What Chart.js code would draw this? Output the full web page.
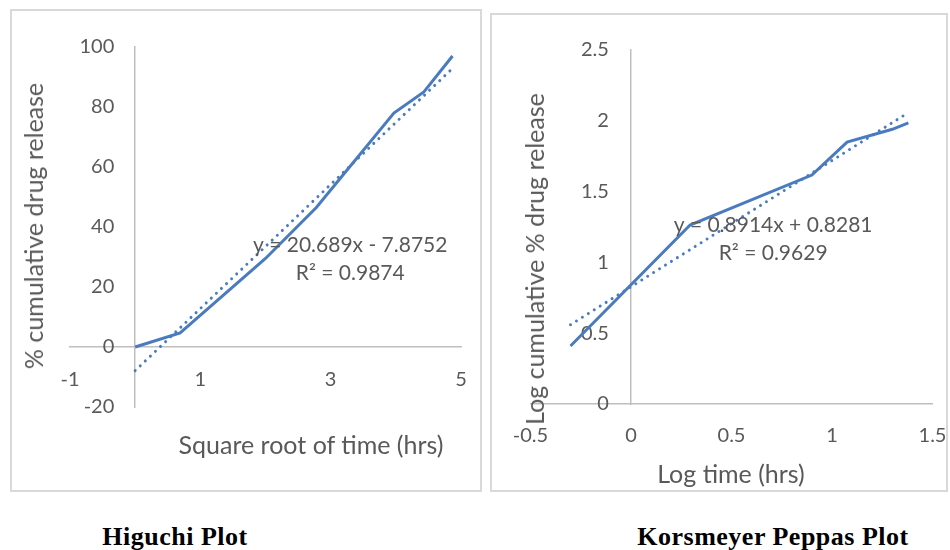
<!DOCTYPE html>
<html>
<head>
<meta charset="utf-8">
<script src="https://cdn.jsdelivr.net/npm/chart.js@4.4.1/dist/chart.umd.min.js"></script>
<style>
  body { margin: 0; background: #fff; width: 950px; height: 550px; position: relative; overflow: hidden; font-family: Lato, sans-serif; }
  .box { position: absolute; border: 2px solid #d9d9d9; box-sizing: border-box; }
  canvas { position: absolute; }
  .ytitle, .xtitle { position: absolute; color: #595959; font-size: 25px; white-space: nowrap; line-height: 1.2; }
  .ytitle { transform: translate(-50%, -50%) rotate(-90deg); }
  .xtitle { transform: translate(-50%, -50%); }
  .caption { position: absolute; font-family: "Liberation Serif", "Times New Roman", serif; font-weight: bold; font-size: 26px; letter-spacing: 0.5px; line-height: 1; color: #000; white-space: nowrap; transform: translate(-50%, -50%); }
</style>
</head>
<body>
<div class="box" style="left:10px;top:9px;width:472px;height:483px;"></div>
<div class="box" style="left:490px;top:13px;width:458px;height:479px;"></div>

<canvas id="higuchi" width="468" height="479" style="left:12px;top:11px;"></canvas>
<canvas id="peppas" width="454" height="475" style="left:492px;top:15px;"></canvas>

<div class="ytitle" style="left:33px;top:226px;">% cumulative drug release</div>
<div class="xtitle" style="left:311px;top:444px;">Square root of time (hrs)</div>
<div class="ytitle" style="left:534px;top:259px;">Log cumulative % drug release</div>
<div class="xtitle" style="left:731px;top:473px;">Log time (hrs)</div>

<div class="caption" style="left:175px;top:537px;">Higuchi Plot</div>
<div class="caption" style="left:773px;top:537px;">Korsmeyer Peppas Plot</div>

<script>
// Higuchi model: cumulative release vs square root of time
const higuchiX = [0, 0.69, 2.0, 2.78, 3.97, 4.43, 4.87];
const higuchiY = [0, 4.7, 29.5, 46.5, 78, 85, 97];
const higuchiSlope = 20.689;
const higuchiIntercept = -7.8752;
const higuchiR2 = '0.9874';
const higuchiXTicks = [-1, 1, 3, 5];
const higuchiYTicks = [-20, 0, 20, 40, 60, 80, 100];

// Korsmeyer-Peppas model: log cumulative release vs log time
const peppasX = [-0.301, 0.294, 0.9, 1.075, 1.30, 1.38];
const peppasY = [0.41, 1.264, 1.617, 1.85, 1.94, 1.985];
const peppasSlope = 0.8914;
const peppasIntercept = 0.8281;
const peppasR2 = '0.9629';
const peppasXTicks = [-0.5, 0, 0.5, 1, 1.5];
const peppasYTicks = [0, 0.5, 1, 1.5, 2, 2.5];

const BLUE = '#4a7bbf';
const TEXT = '#595959';
const AXIS = '#bfbfbf';
const FONT = { family: 'Lato', size: 20 };

function equationText(slope, intercept) {
  const sign = intercept < 0 ? '-' : '+';
  return 'y = ' + slope + 'x ' + sign + ' ' + Math.abs(intercept);
}

// Writes the regression equation and R² next to the trendline
const trendLabel = {
  id: 'trendLabel',
  afterDatasetsDraw(chart, args, opts) {
    const { ctx, scales } = chart;
    const px = scales.x.getPixelForValue(opts.at[0]);
    const py = scales.y.getPixelForValue(opts.at[1]);
    ctx.save();
    ctx.font = '21px Lato';
    ctx.fillStyle = TEXT;
    ctx.textAlign = 'center';
    ctx.textBaseline = 'middle';
    opts.lines.forEach((t, i) => ctx.fillText(t, px, py + i * 28));
    ctx.restore();
  }
};

function buildChart(id, cfg) {
  const points = cfg.xs.map((x, i) => ({ x: x, y: cfg.ys[i] }));
  const x0 = cfg.xs[0], x1 = cfg.xs[cfg.xs.length - 1];
  const trend = [
    { x: x0, y: cfg.slope * x0 + cfg.intercept },
    { x: x1, y: cfg.slope * x1 + cfg.intercept }
  ];
  const yMin = cfg.yTicks[0], yMax = cfg.yTicks[cfg.yTicks.length - 1];
  const setYTicks = s => { s.ticks = cfg.yTicks.map(v => ({ value: v })); };
  return new Chart(document.getElementById(id), {
    type: 'scatter',
    data: {
      datasets: [
        {
          data: trend, showLine: true, pointRadius: 0,
          borderColor: BLUE, borderWidth: 3,
          borderDash: [0.01, 7], borderCapStyle: 'round', order: 0
        },
        {
          data: points, showLine: true, pointRadius: 0,
          borderColor: BLUE, borderWidth: 3, tension: 0,
          borderJoinStyle: 'miter', order: 1
        }
      ]
    },
    options: {
      responsive: false,
      animation: false,
      devicePixelRatio: 1,
      layout: { padding: cfg.padding },
      plugins: {
        legend: { display: false },
        tooltip: { enabled: false },
        trendLabel: {
          at: cfg.labelAt,
          lines: [equationText(cfg.slope, cfg.intercept), 'R\u00b2 = ' + cfg.r2]
        }
      },
      scales: {
        // horizontal axis crossing at y = 0
        x: {
          type: 'linear',
          min: cfg.xTicks[0], max: cfg.xTicks[cfg.xTicks.length - 1],
          position: { y: 0 },
          grid: { display: false, drawTicks: false },
          border: { display: true, color: AXIS, width: 1.5 },
          ticks: { color: TEXT, font: FONT, padding: cfg.xPad, maxRotation: 0, callback: v => String(v) },
          afterBuildTicks: s => { s.ticks = cfg.xTicks.map(v => ({ value: v })); },
          afterFit: s => { s.paddingLeft = 0; s.paddingRight = 0; }
        },
        // vertical axis line crossing at x = 0
        y: {
          type: 'linear', min: yMin, max: yMax,
          position: { x: 0 },
          grid: { display: false, drawTicks: false },
          border: { display: true, color: AXIS, width: 1.5 },
          ticks: { display: false },
          afterBuildTicks: setYTicks
        },
        // value labels of the vertical axis, set slightly left of the axis line
        yLabels: {
          axis: 'y', type: 'linear', min: yMin, max: yMax,
          position: { x: cfg.yLabelAt },
          grid: { display: false, drawTicks: false },
          border: { display: false },
          ticks: { color: TEXT, font: FONT, padding: 0, callback: v => String(v) },
          afterBuildTicks: setYTicks
        }
      }
    },
    plugins: [trendLabel]
  });
}

buildChart('higuchi', {
  xs: higuchiX, ys: higuchiY,
  slope: higuchiSlope, intercept: higuchiIntercept, r2: higuchiR2,
  xTicks: higuchiXTicks, yTicks: higuchiYTicks,
  padding: { left: 58, right: 19, top: 36, bottom: 83 },
  labelAt: [3.3, 34],
  xPad: 21, yLabelAt: -0.32
});

buildChart('peppas', {
  xs: peppasX, ys: peppasY,
  slope: peppasSlope, intercept: peppasIntercept, r2: peppasR2,
  xTicks: peppasXTicks, yTicks: peppasYTicks,
  padding: { left: 38.5, right: 13.5, top: 35, bottom: 86 },
  labelAt: [0.707, 1.264],
  xPad: 20, yLabelAt: -0.11
});
</script>
</body>
</html>
